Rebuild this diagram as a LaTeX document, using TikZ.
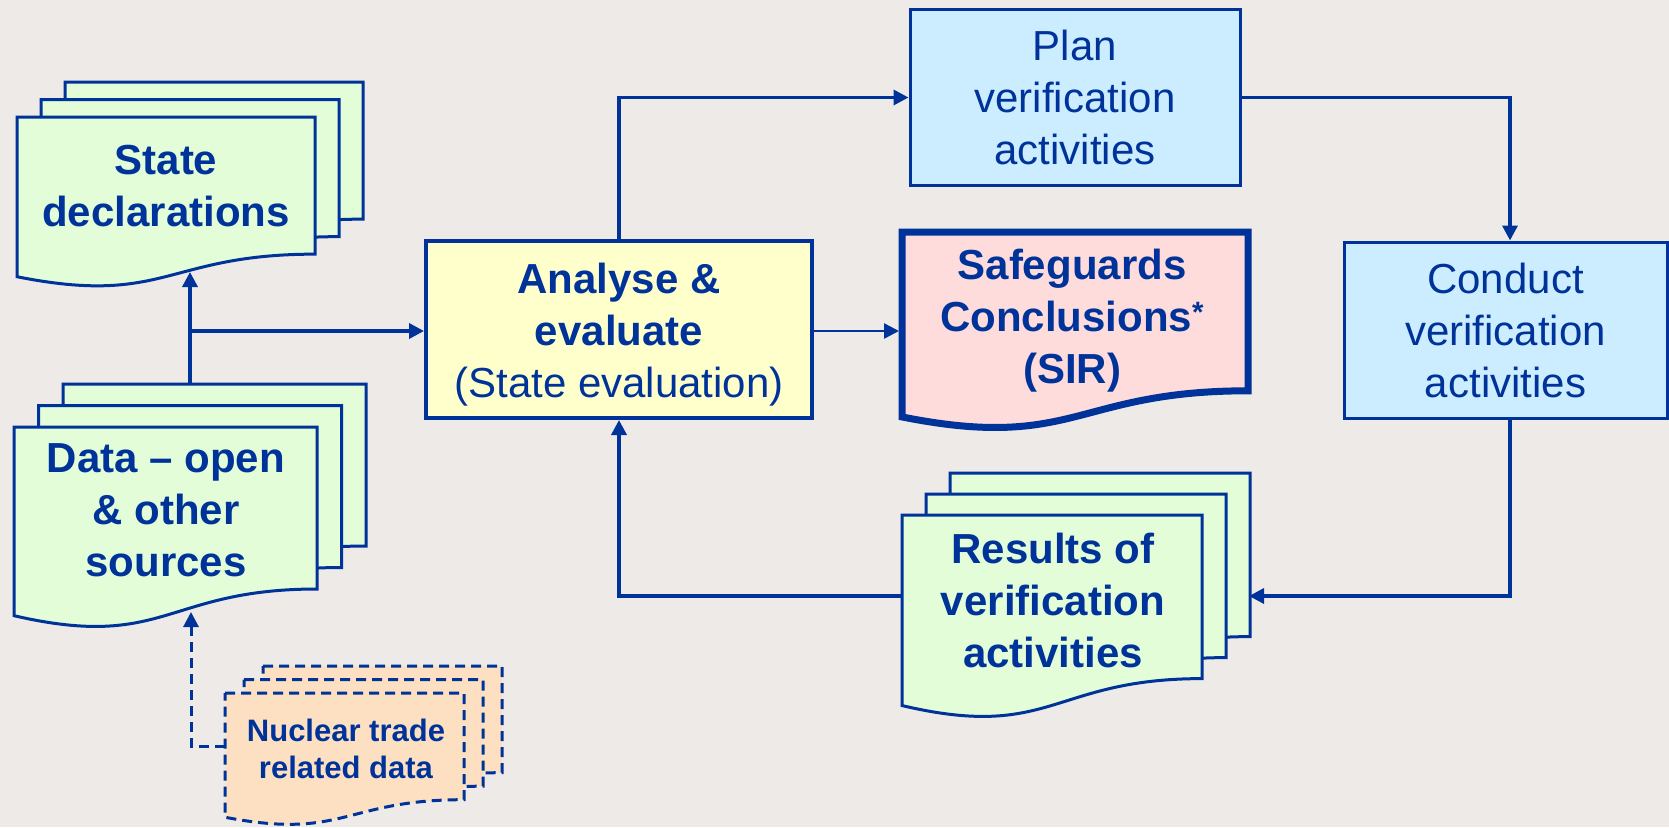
\documentclass[tikz,border=0pt]{standalone}
\usepackage{fontspec}
\setmainfont{Liberation Sans}
\usetikzlibrary{arrows.meta,calc}
\definecolor{ink}{HTML}{003399}
\definecolor{bgc}{HTML}{EDEAE7}
\definecolor{docgreen}{HTML}{E2FDD7}
\definecolor{yel}{HTML}{FFFFCC}
\definecolor{pinkc}{HTML}{FFDCDC}
\definecolor{lblue}{HTML}{CCECFF}
\definecolor{peach}{HTML}{FDE0C2}
% document shape: [opts]{L}{T}{w}{h}
\newcommand\docshape[5][]{%
  \pgfmathsetmacro\dsL{#2}%
  \pgfmathsetmacro\dsT{#3}%
  \pgfmathsetmacro\dsR{#2+#4}%
  \pgfmathsetmacro\dsM{#2+0.5*#4}%
  \pgfmathsetmacro\dsYr{#3+0.802*#5}%
  \pgfmathsetmacro\dsYc{#3+1.1075*#5}%
  \pgfmathsetmacro\dsYl{#3+0.934*#5}%
  \draw[#1] (\dsL,\dsT) -- (\dsR,\dsT) -- (\dsR,\dsYr) .. controls (\dsM,\dsYr) and (\dsM,\dsYc) .. (\dsL,\dsYl) -- cycle;%
}
% stack of three: [opts]{L}{T}{w}{h}{dx}{dy up}
\newcommand\docstack[7][]{%
  \docshape[#1]{#2+2*#6}{#3-2*#7}{#4}{#5}%
  \docshape[#1]{#2+#6}{#3-#7}{#4}{#5}%
  \docshape[#1]{#2}{#3}{#4}{#5}%
}
\begin{document}
\begin{tikzpicture}[x=1pt,y=-1pt,
  conn/.style={draw=ink, line width=3.5pt, -{Triangle[length=15pt,width=15pt]}},
  doc/.style={draw=ink, line width=3pt, fill=docgreen, line join=miter},
  ntdoc/.style={draw=ink, line width=3pt, fill=peach, dash pattern=on 10pt off 6pt},
  sgdoc/.style={draw=ink, line width=7pt, fill=pinkc, line join=miter},
  txt/.style={text=ink, align=center, inner sep=0pt, font=\fontsize{42}{52}\selectfont\bfseries},
  box/.style={draw=ink, line width=3pt, text=ink, align=center, inner sep=0pt, font=\fontsize{42}{52}\selectfont}]
\fill[bgc] (0,0) rectangle (1669,827);
\useasboundingbox (0,0) rectangle (1669,827);

% document stacks
\docstack[doc]{17}{117}{298}{171}{24}{17.5}
\docstack[doc]{14}{427}{303}{202}{24.5}{21.5}
\docstack[ntdoc]{225}{693}{239}{133}{19}{13.5}
\docstack[doc]{902}{515}{300}{204}{24}{21}
\docshape[sgdoc]{902}{232}{346}{198}

% texts on documents
\node[txt] (sd) at (166,186) {State\\declarations};
\node[txt] (data) at (166,510) {Data – open\\\& other\\sources};
\node[txt, font=\fontsize{31}{37}\selectfont\bfseries] (ntd) at (346,749) {Nuclear trade\\related data};
\node[txt] (res) at (1053,600) {Results of\\verification\\activities};
\node[txt] (sg) at (1072,321) {Safeguards\\Conclusions\textsuperscript{*}\\(SIR)};

% boxes
\node[box, line width=4pt, fill=yel, minimum width=386pt, minimum height=177pt] (analyse) at (619,329.5) {};
\node[txt] (analyseTxt) at (619,335)
  {Analyse \&\\evaluate\\{\mdseries(State evaluation)}};
\node[box, fill=lblue, minimum width=330pt, minimum height=176pt] (plan) at (1075,97.5) {Plan\\verification\\activities};
\node[box, fill=lblue, minimum width=323pt, minimum height=176pt] (conduct) at (1505.5,330) {Conduct\\verification\\activities};

% connection points
\coordinate (sdBot) at (190,272);
\coordinate (dataTop) at (190,384);
\coordinate (junc) at (190,331);
\coordinate (dataBot) at (191,612);
\coordinate (ntdLeft) at (225,746);
\coordinate (sgLeft) at (899,331);
\coordinate (resBackR) at (1249,596);
\coordinate (resFrontL) at (902,596);
\coordinate (condX) at (1510,0);

% connectors
\draw[conn] (dataTop) -- (sdBot);
\draw[conn] (junc) -- (junc -| analyse.west);
\draw[conn, line width=3pt, dash pattern=on 10pt off 6pt] (ntdLeft) -| (dataBot);
\draw[conn, line width=2.5pt] (analyse.east |- sgLeft) -- (sgLeft);
\draw[conn] (analyse.north) |- (plan.west);
\draw[conn] (plan.east) -| (condX |- conduct.north);
\draw[conn] (condX |- conduct.south) |- (resBackR);
\draw[conn] (resFrontL) -| (analyse.south);
\end{tikzpicture}
\end{document}
